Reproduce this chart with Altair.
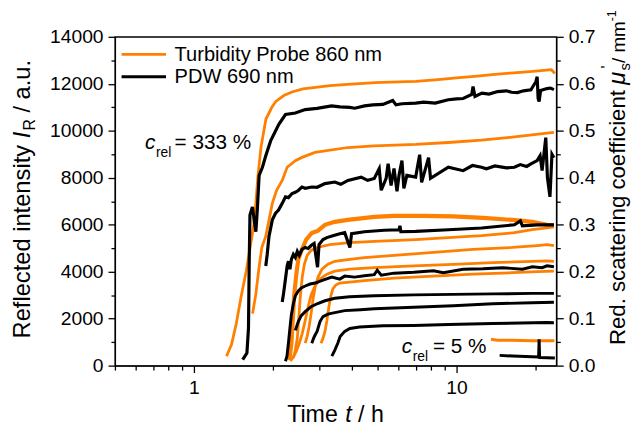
import altair as alt
import pandas as pd

ORANGE = "#FF7F00"
BLACK = "#000000"
FONT = "Liberation Sans"

# ---------------- data (time in h, reflected intensity in a.u.) ----------------
# Turbidity probe 860 nm (orange)
o1_t = [1.33, 1.39, 1.45, 1.51, 1.58, 1.63, 1.69, 1.72, 1.75, 1.80, 1.88, 1.98, 2.05, 2.20, 2.36, 2.60, 2.90, 3.30, 3.85, 4.90, 6.0, 7.0, 8.5, 10.0, 12.0, 14.0, 16.0, 18.0, 20.0, 22.0, 23.0, 23.7]
o1_v = [400, 900, 1800, 2900, 4000, 4900, 6000, 6900, 8000, 9300, 10500, 11000, 11250, 11500, 11650, 11780, 11850, 11920, 11980, 12050, 12080, 12100, 12180, 12250, 12330, 12400, 12450, 12500, 12540, 12580, 12600, 12440]

o2_t = [1.672, 1.721, 1.766, 1.813, 1.877, 1.988, 2.064, 2.169, 2.264, 2.433, 2.578, 2.893, 3.859, 4.862, 6.99, 9.31, 12.46, 16.34, 22.12, 23.5]
o2_v = [2214, 3055, 4105, 5030, 5505, 6908, 7467, 7887, 8446, 8728, 8866, 9077, 9287, 9358, 9420, 9500, 9600, 9730, 9900, 9930]

o3_t = [2.310, 2.350, 2.380, 2.411, 2.454, 2.497, 2.578, 2.676, 2.811, 2.969, 3.155, 3.44, 3.849, 4.862, 5.781, 7.495, 9.719, 12.6, 16.34, 19.43, 22.12, 23.5]
o3_v = [239, 954, 2004, 3055, 3895, 4525, 4946, 5366, 5648, 5750, 5996, 6122, 6206, 6332, 6374, 6374, 6353, 6290, 6206, 6122, 5996, 5975]

o4_t = [2.391, 2.433, 2.475, 2.507, 2.541, 2.585, 2.633, 2.699, 2.794, 2.944, 3.294, 3.917, 4.862, 6.99, 9.307, 12.46, 16.62, 19.43, 22.12, 23.5]
o4_v = [324, 660, 1164, 2004, 2929, 3769, 4315, 4694, 4904, 5030, 5156, 5240, 5295, 5366, 5450, 5534, 5660, 5786, 5870, 5912]

o5_t = [2.653, 2.699, 2.746, 2.794, 2.843, 2.893, 2.969, 3.074, 3.238, 3.44, 3.917, 4.46, 5.781, 8.173, 11.56, 16.34, 20.29, 22.12, 23.5]
o5_v = [954, 1248, 1668, 2214, 2845, 3349, 3769, 4105, 4315, 4441, 4525, 4597, 4694, 4820, 4946, 5030, 5114, 5156, 5114]

o6_t = [2.33, 2.391, 2.454, 2.519, 2.585, 2.653, 2.723, 2.794, 2.893, 3.021, 3.209, 3.44, 3.917, 4.862, 6.873, 9.719, 13.74, 19.43, 22.12, 23.5]
o6_v = [197, 366, 618, 954, 1374, 1920, 2509, 3013, 3391, 3685, 3895, 4021, 4105, 4177, 4244, 4315, 4387, 4442, 4463, 4442]

o7_t = [3.047, 3.101, 3.155, 3.209, 3.266, 3.323, 3.381, 3.469, 3.592, 3.917, 4.46, 5.781, 8.173, 11.56, 16.34, 20.29, 23.5]
o7_v = [954, 1164, 1458, 1920, 2509, 2971, 3265, 3433, 3517, 3559, 3622, 3727, 3811, 3895, 3958, 4000, 4021]

o8_t = [13.53, 14.3, 16.3, 19.4, 22.1, 23.6]
o8_v = [1122, 1080, 1080, 1059, 1059, 1059]

# PDW 690 nm (black)
b1_t = [1.533, 1.591, 1.613, 1.624, 1.634, 1.670, 1.699, 1.721, 1.743, 1.771, 1.823, 1.877, 1.959, 2.105, 2.231, 2.433, 2.653, 2.944, 3.343, 3.6, 3.917, 4.1, 4.46, 4.8, 5.243, 5.716, 5.883, 6.2, 6.99, 7.5, 8.3, 9.307, 10.0, 10.60, 11.43, 11.56, 11.76, 12.5, 13.3, 14.35, 15.5, 16.2, 17.06, 18.0, 19.21, 20.06, 20.29, 20.46, 20.64, 20.91, 22.12, 22.8, 23.5]
b1_v = [252, 534, 1584, 4525, 6416, 6752, 6122, 5702, 6626, 8097, 8446, 8938, 9568, 10270, 10690, 10757, 10900, 10955, 11060, 11020, 10997, 10960, 11060, 11100, 11123, 11291, 11102, 11150, 11177, 11220, 11180, 11320, 11360, 11375, 11543, 11879, 11459, 11600, 11560, 11669, 11700, 11640, 11627, 11700, 11740, 12089, 12299, 11375, 11249, 11711, 11795, 11820, 11753]

b2_t = [1.877, 1.901, 1.931, 1.988, 2.046, 2.100, 2.169, 2.231, 2.290, 2.364, 2.433, 2.503, 2.578, 2.653, 2.811, 2.944, 3.155, 3.44, 3.623, 3.859, 4.333, 4.588, 4.862, 5.078, 5.168, 5.395, 5.490, 5.634, 5.781, 5.934, 6.038, 6.197, 6.303, 6.471, 6.99, 7.239, 7.365, 7.827, 7.964, 9.307, 10.6, 11.5, 12.46, 13.0, 14.0, 15.5, 16.62, 17.5, 18.5, 19.21, 20.29, 20.82, 21.19, 21.88, 22.2, 22.7, 23.1, 23.5]
b2_v = [4244, 4736, 5505, 6206, 6488, 6626, 6908, 7186, 7152, 7328, 7383, 7467, 7606, 7551, 7606, 7593, 7749, 7816, 7719, 7887, 8026, 7887, 7971, 8391, 7467, 7971, 8601, 7668, 8391, 7425, 8097, 8728, 7551, 8097, 8026, 8980, 7803, 8854, 7971, 8446, 8300, 8520, 8446, 8380, 8500, 8420, 8446, 8560, 8480, 8589, 8728, 8938, 8307, 9707, 8000, 7186, 9000, 8854]

b3_t = [2.169, 2.193, 2.231, 2.264, 2.290, 2.320, 2.350, 2.391, 2.433, 2.475, 2.519, 2.578, 2.653, 2.723, 2.794, 2.868, 2.956, 2.995, 3.101, 3.209, 3.381, 3.592, 3.751, 3.926, 3.985, 4.46, 5.303, 6.038, 6.09, 6.14, 6.99, 9.307, 12.46, 16.62, 17.51, 17.82, 20.29, 22.12, 23.5]
b3_v = [2706, 3055, 3685, 4244, 4442, 4105, 4525, 4736, 4610, 4862, 4694, 4946, 5030, 4988, 5114, 5198, 4189, 5156, 5366, 5450, 5534, 5618, 5660, 5030, 5618, 5702, 5765, 5786, 5954, 5702, 5715, 5786, 5858, 5996, 6164, 5954, 5996, 5996, 5996]

b4_t = [2.231, 2.261, 2.290, 2.320, 2.350, 2.391, 2.433, 2.497, 2.563, 2.653, 2.770, 2.893, 3.101, 3.351, 3.592, 3.751, 4.09, 4.46, 4.862, 4.99, 5.168, 5.781, 6.873, 8.173, 8.913, 10.6, 12.6, 14.98, 17.82, 19.43, 21.19, 22.12, 23.5]
b4_v = [185, 408, 954, 1584, 2172, 2635, 2971, 3181, 3307, 3391, 3475, 3517, 3643, 3769, 3685, 3811, 3769, 3824, 3874, 4063, 3853, 3937, 3979, 4042, 3958, 4105, 4126, 4168, 4105, 4210, 4168, 4252, 4210]

b5_t = [2.433, 2.497, 2.563, 2.653, 2.794, 2.944, 3.155, 3.44, 3.917, 4.862, 6.873, 9.719, 13.74, 19.43, 23.5]
b5_v = [1500, 1878, 2130, 2298, 2509, 2635, 2761, 2866, 2929, 2971, 3013, 3034, 3055, 3076, 3076]

b6_t = [2.811, 2.855, 2.893, 2.944, 3.021, 3.101, 3.238, 3.44, 3.751, 4.307, 4.862, 6.873, 9.719, 13.74, 19.43, 23.5]
b6_v = [954, 1164, 1303, 1458, 1878, 2088, 2193, 2256, 2341, 2383, 2425, 2488, 2551, 2635, 2677, 2698]

b7_t = [3.351, 3.44, 3.53, 3.604, 3.751, 3.926, 4.271, 5.243, 6.873, 9.333, 13.74, 22.12, 23.5]
b7_v = [408, 660, 954, 1235, 1458, 1584, 1647, 1700, 1710, 1752, 1794, 1836, 1830]

b8_t = [14.6, 16.34, 19.43, 20.55, 20.64, 20.73, 22.12, 23.7]
b8_v = [437, 408, 378, 366, 1122, 345, 336, 324]

orange_series = [o1_t, o2_t, o3_t, o4_t, o5_t, o6_t, o7_t, o8_t]
orange_values = [o1_v, o2_v, o3_v, o4_v, o5_v, o6_v, o7_v, o8_v]
orange_widths = [2.8, 2.8, 4.2, 2.8, 2.8, 2.8, 2.8, 3.0]
black_series = [b1_t, b2_t, b3_t, b4_t, b5_t, b6_t, b7_t, b8_t]
black_values = [b1_v, b2_v, b3_v, b4_v, b5_v, b6_v, b7_v, b8_v]
black_widths = [3.2, 3.2, 3.2, 3.0, 3.0, 3.0, 3.0, 3.0]

x_ticks = [0.5, 0.6, 0.7, 0.8, 0.9, 1, 2, 3, 4, 5, 6, 7, 8, 9, 10, 20]
y_ticks = list(range(0, 14001, 1000))


def frame(ts, vs, ws, prefix):
    rows = []
    for k, (tt, vv, w) in enumerate(zip(ts, vs, ws)):
        for i, (a, b) in enumerate(zip(tt, vv)):
            rows.append({"series": f"{prefix}{k}", "t": a, "v": b, "i": i, "w": w})
    return pd.DataFrame(rows)


df_o = frame(orange_series, orange_values, orange_widths, "o")
df_b = frame(black_series, black_values, black_widths, "b")

xscale = alt.Scale(type="log", domain=[0.5, 24], nice=False)
yscale = alt.Scale(domain=[0, 14000], nice=False, zero=False)

axis_common = dict(
    grid=False, title=None, domainColor="black", tickColor="black", labelColor="black",
    domainWidth=1.3, tickWidth=1.3, labelFont=FONT, labelFontSize=19.5, labelOverlap=False,
)

x_axis = alt.Axis(
    values=x_ticks,
    labelExpr="(datum.value == 1 || datum.value == 10) ? format(datum.value, 'd') : ''",
    tickSize={"condition": {"test": "datum.value == 1 || datum.value == 10", "value": 7}, "value": 4.5},
    labelPadding=6.5,
    **axis_common,
)

y_left = alt.Axis(
    values=y_ticks, orient="left",
    labelExpr="datum.value % 2000 == 0 ? format(datum.value, 'd') : ''",
    tickSize={"condition": {"test": "datum.value % 2000 == 0", "value": 7}, "value": 4},
    labelPadding=5,
    **axis_common,
)

y_right = alt.Axis(
    values=y_ticks, orient="right",
    labelExpr="datum.value % 2000 == 0 ? format(datum.value / 20000, '.1f') : ''",
    tickSize={"condition": {"test": "datum.value % 2000 == 0", "value": 7}, "value": 4},
    labelPadding=5,
    **axis_common,
)

orange_lines = alt.Chart(df_o).mark_line(color=ORANGE).encode(
    x=alt.X("t:Q", scale=xscale, axis=x_axis),
    y=alt.Y("v:Q", scale=yscale, axis=y_left),
    strokeWidth=alt.StrokeWidth("w:Q", scale=None, legend=None),
    detail="series:N",
    order="i:Q",
)

black_lines = alt.Chart(df_b).mark_line(color=BLACK).encode(
    x=alt.X("t:Q", scale=xscale, axis=x_axis),
    y=alt.Y("v:Q", scale=yscale, axis=y_right),
    strokeWidth=alt.StrokeWidth("w:Q", scale=None, legend=None),
    detail="series:N",
    order="i:Q",
)

one = pd.DataFrame({"a": [0]})


def txt(s, x, y, size=20, style="normal", angle=0, align="left", baseline="alphabetic"):
    return alt.Chart(one).mark_text(
        text=s, font=FONT, fontSize=size, fontStyle=style, angle=angle,
        align=align, baseline=baseline, color="black",
    ).encode(x=alt.value(x), y=alt.value(y))


def seg(x1, x2, y, color):
    return alt.Chart(one).mark_rule(color=color, strokeWidth=3).encode(
        x=alt.value(x1), x2=alt.value(x2), y=alt.value(y)
    )


layers = [orange_lines, black_lines]

# legend
layers += [
    seg(6.7, 51.7, 17.8, ORANGE),
    seg(6.7, 51.7, 40.5, BLACK),
    txt("Turbidity Probe 860 nm", 60.4, 18.5, 20.3, baseline="middle"),
    txt("PDW 690 nm", 60.4, 41.2, 20.3, baseline="middle"),
]

# annotations
layers += [
    txt("c", 30.4, 113.8, 21, "italic"),
    txt("rel", 41.5, 121.5, 14),
    txt("= 333 %", 60.4, 114, 21),
    txt("c", 290.4, 320.5, 21, "italic"),
    txt("rel", 301.5, 328.2, 14),
    txt("= 5 %", 322, 320.5, 21),
]

# x title: Time t / h
TS = 23.5
layers += [
    txt("Time", 174.4, 390.5, TS),
    txt("t", 233.2, 390.5, TS, "italic"),
    txt("/ h", 246.2, 390.5, TS),
]

# left title (rotated)
LX = -85.8
LS = 24
layers += [
    txt("Reflected intensity", LX, 305.5, LS, angle=270),
    txt("I", LX, 102.8, LS, "italic", angle=270),
    txt("R", LX + 5, 95.0, 16, angle=270),
    txt("/ a.u.", LX, 76.7, LS, angle=270),
]

# right title (rotated)
RX = 517
layers += [
    txt("Red. scattering coefficient", RX, 312.2, 22.5, angle=270),
    txt("\u03bc", RX, 48.5, 24, "italic", angle=270),
    txt("s", RX + 5, 34.0, 15, angle=270),
    txt("'", RX - 13, 32.0, 16, angle=270),
    txt("/ mm", RX, 26.5, 19, angle=270),
    txt("-1", RX - 10, -15.7, 12.5, angle=270),
]

chart = alt.layer(*layers).resolve_axis(y="independent").properties(
    width=447,
    height=333,
    autosize=alt.AutoSizeParams(type="none"),
    padding={"left": 108.3, "top": 26.5, "right": 80.7, "bottom": 61.5},
).configure_view(stroke="black", strokeWidth=1.3)

chart.save("out.html", embed_options={"renderer": "svg", "actions": False})
